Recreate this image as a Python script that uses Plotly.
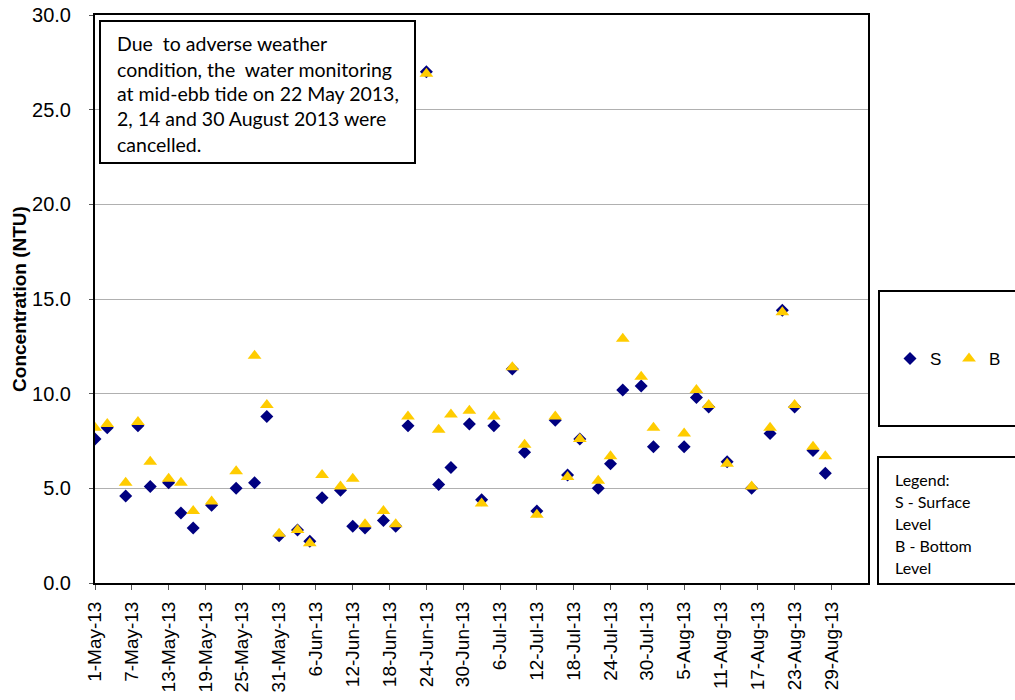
import plotly.graph_objects as go

# ---- data ----
dates = [
    "2013-05-01", "2013-05-03", "2013-05-06", "2013-05-08", "2013-05-10",
    "2013-05-13", "2013-05-15", "2013-05-17", "2013-05-20", "2013-05-24",
    "2013-05-27", "2013-05-29", "2013-05-31", "2013-06-03", "2013-06-05",
    "2013-06-07", "2013-06-10", "2013-06-12", "2013-06-14", "2013-06-17",
    "2013-06-19", "2013-06-21", "2013-06-24", "2013-06-26", "2013-06-28",
    "2013-07-01", "2013-07-03", "2013-07-05", "2013-07-08", "2013-07-10",
    "2013-07-12", "2013-07-15", "2013-07-17", "2013-07-19", "2013-07-22",
    "2013-07-24", "2013-07-26", "2013-07-29", "2013-07-31", "2013-08-05",
    "2013-08-07", "2013-08-09", "2013-08-12", "2013-08-16", "2013-08-19",
    "2013-08-21", "2013-08-23", "2013-08-26", "2013-08-28",
]
surface = [
    7.6, 8.2, 4.6, 8.3, 5.1, 5.3, 3.7, 2.9, 4.1, 5.0,
    5.3, 8.8, 2.5, 2.8, 2.2, 4.5, 4.9, 3.0, 2.9, 3.3,
    3.0, 8.3, 27.0, 5.2, 6.1, 8.4, 4.4, 8.3, 11.3, 6.9,
    3.8, 8.6, 5.7, 7.6, 5.0, 6.3, 10.2, 10.4, 7.2, 7.2,
    9.8, 9.3, 6.4, 5.0, 7.9, 14.4, 9.3, 7.0, 5.8,
]
bottom = [
    8.2, 8.4, 5.3, 8.5, 6.4, 5.5, 5.3, 3.8, 4.3, 5.9,
    12.0, 9.4, 2.6, 2.8, 2.1, 5.7, 5.1, 5.5, 3.1, 3.8,
    3.1, 8.8, 26.9, 8.1, 8.9, 9.1, 4.2, 8.8, 11.4, 7.3,
    3.6, 8.8, 5.6, 7.6, 5.4, 6.7, 12.9, 10.9, 8.2, 7.9,
    10.2, 9.4, 6.3, 5.1, 8.2, 14.3, 9.4, 7.2, 6.7,
]
series_names = ["S", "B"]
note_lines = [
    "Due\u00a0 to adverse weather",
    "condition, the\u00a0 water monitoring",
    "at mid-ebb tide on 22 May 2013,",
    "2, 14 and 30 August 2013 were",
    "cancelled.",
]
legend_note_lines = ["Legend:", "S - Surface", "Level", "B - Bottom", "Level"]
y_title = "Concentration (NTU)"

# ---- layout geometry (page pixels) ----
W, H = 1015, 700
L, R, T, B = 95, 868, 15, 583  # plot area


def px_x(x):
    return (x - L) / (R - L)


def px_y(y):
    return (B - y) / (B - T)


fig = go.Figure()
fig.add_trace(go.Scatter(
    x=dates, y=surface, mode="markers", name=series_names[0],
    marker=dict(symbol="diamond", size=10, color="#000080",
                line=dict(width=0)),
))
fig.add_trace(go.Scatter(
    x=dates, y=bottom, mode="markers", name=series_names[1],
    marker=dict(symbol="triangle-up", size=12, color="#FFCC00",
                line=dict(width=0)),
))

shapes = [
    dict(type="rect", xref="paper", yref="paper",
         x0=px_x(100), x1=px_x(415), y0=px_y(163), y1=px_y(21),
         line=dict(color="black", width=2), fillcolor="white", layer="above"),
    dict(type="rect", xref="paper", yref="paper",
         x0=px_x(879), x1=px_x(1030), y0=px_y(426), y1=px_y(291),
         line=dict(color="black", width=2), fillcolor="rgba(0,0,0,0)"),
    dict(type="rect", xref="paper", yref="paper",
         x0=px_x(878), x1=px_x(1030), y0=px_y(584), y1=px_y(457),
         line=dict(color="black", width=2), fillcolor="rgba(0,0,0,0)"),
]

annotations = []
for i, t in enumerate(note_lines):
    annotations.append(dict(
        text=t, xref="paper", yref="paper", x=px_x(115), y=px_y(44 + 25 * i),
        xanchor="left", yanchor="middle", showarrow=False,
        font=dict(family="Lato", size=19.5, color="black"),
    ))
for i, t in enumerate(legend_note_lines):
    annotations.append(dict(
        text=t, xref="paper", yref="paper", x=px_x(893), y=px_y(479 + 22 * i),
        xanchor="left", yanchor="middle", showarrow=False,
        font=dict(family="Lato", size=16, color="black"),
    ))

fig.update_layout(
    width=W, height=H,
    margin=dict(l=L, r=W - R, t=T, b=H - B, pad=0, autoexpand=False),
    paper_bgcolor="white", plot_bgcolor="white",
    font=dict(family="Liberation Sans, Arial", color="black"),
    showlegend=True,
    legend=dict(orientation="h", x=px_x(890), y=px_y(359),
                xanchor="left", yanchor="middle",
                bgcolor="rgba(0,0,0,0)", borderwidth=0,
                font=dict(size=17), itemwidth=30, entrywidth=14,
                tracegroupgap=0),
    shapes=shapes,
    annotations=annotations,
)
fig.update_xaxes(
    type="date", range=["2013-05-01", "2013-09-03T23:00"],
    tick0="2013-05-01", dtick=6 * 86400000, tickformat="%-d-%b-%y",
    tickangle=-90, tickfont=dict(size=19),
    ticks="outside", ticklen=5, tickcolor="#555", ticklabelstandoff=4,
    showgrid=False, showline=True, linecolor="black", linewidth=2, mirror=True,
    zeroline=False, automargin=False, ticklabeloverflow="allow",
)
fig.update_yaxes(
    range=[0, 30], dtick=5, tickformat=".1f", tickfont=dict(size=20),
    ticks="outside", ticklen=4, tickcolor="#555", ticklabelstandoff=14,
    showgrid=True, gridcolor="#b0b0b0", gridwidth=1,
    showline=True, linecolor="black", linewidth=2, mirror=True,
    zeroline=False, automargin=False, ticklabeloverflow="allow",
    title=dict(text="<b>" + y_title + "</b>", font=dict(size=19), standoff=0),
)

fig.write_html(
    "out.html",
    config={"displayModeBar": False},
    post_script="document.body.style.margin='0';document.body.style.overflow='hidden';",
)
